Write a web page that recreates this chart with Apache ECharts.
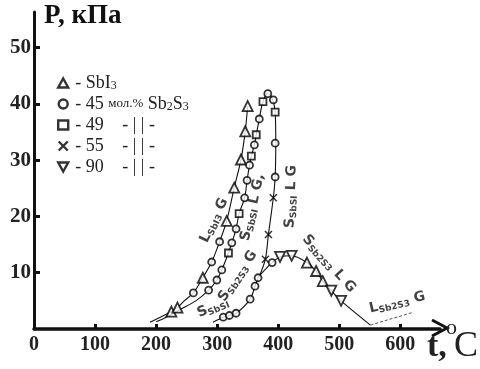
<!DOCTYPE html>
<html><head><meta charset="utf-8">
<script src="https://cdn.jsdelivr.net/npm/echarts@6/dist/echarts.min.js"></script>
<style>html,body{margin:0;padding:0;background:#fff}#c{width:480px;height:369px}</style>
</head><body><div id="c"></div>
<script>
// ---- axis ticks ----
const tempTicks = [0, 100, 200, 300, 400, 500, 600];
const pTicks = [10, 20, 30, 40, 50];

// ---- curves (t, °C ; P, kPa) ----
const curveSbI3T = [190, 205, 225, 235, 246, 261, 276.5, 291, 304, 315.6, 328, 339, 346, 350];
const curveSbI3P = [1.2, 2.0, 3.1, 3.8, 5.0, 6.4, 9.1, 11.9, 15.5, 19.2, 25.1, 30.1, 35.1, 39.6];

const curveSbSIT = [200, 215, 240, 265, 286, 299.5, 307.6, 318.5, 324, 331, 336, 345, 349, 353, 356, 361, 364, 369, 375, 383, 390, 395, 396, 395, 392, 384, 379, 370];
const curveSbSIP = [1.3, 2.0, 3.5, 5.0, 6.9, 8.7, 10.5, 13.5, 15.3, 17.8, 20.5, 23.3, 26.4, 29.1, 30.7, 32.7, 34.5, 37.3, 40.4, 41.8, 41.0, 38.5, 33.0, 27.0, 23.3, 16.8, 12.4, 9.6];

const curveSb2S3T = [293, 310, 331, 354, 362, 367, 372, 390, 403, 422, 447, 462, 473, 487, 503, 551];
const curveSb2S3P = [1.2, 2.1, 2.8, 5.3, 7.6, 9.1, 9.8, 11.8, 12.8, 13.0, 11.8, 10.3, 8.5, 6.8, 5.0, 0.7];

const curveLiqT = [551, 622];
const curveLiqP = [0.7, 3.0];

// ---- measured points by sample ----
const triT = [225, 235, 276.5, 315.6, 328, 339, 346, 350, 447, 462, 473];
const triP = [3.1, 3.8, 9.1, 19.2, 25.1, 30.1, 35.1, 39.6, 11.8, 10.3, 8.5];
const circT = [261, 291, 304, 286, 299.5, 307.6, 324, 331, 345, 349, 353, 361, 369, 383, 392, 395, 395, 310, 320, 331, 354, 362, 367, 390];
const circP = [6.4, 11.9, 15.5, 6.9, 8.7, 10.5, 15.3, 17.8, 23.3, 26.4, 29.1, 32.7, 37.3, 41.8, 40.7, 33.0, 27.0, 2.1, 2.4, 2.8, 5.3, 7.6, 9.1, 11.8];
const sqT = [318.5, 336, 356, 364, 375, 395];
const sqP = [13.5, 20.5, 30.7, 34.5, 40.4, 38.5];
const crossT = [392, 384, 379];
const crossP = [23.3, 16.8, 12.4];
const invT = [403, 422, 487, 503];
const invP = [12.8, 13.0, 6.8, 5.0];

// ---- legend ----
const legendNames = ['SbI3', '45', '49', '55', '90'];
const legendTexts = [
  '- SbI{sub|3}',
  '- 45 {sm|мол.%} Sb{sub|2}S{sub|3}',
  '{w|- 49}- | | -',
  '{w|- 55}- | | -',
  '{w|- 90}- | | -'
];

// ---- phase annotations (label centre in data coords) ----
const annotT = [295, 358, 421, 293, 334, 483, 595];
const annotP = [19.3, 21.6, 23.5, 3.8, 9.4, 11.6, 4.7];
const annotRot = [64, 77, 88, 23, 56, -48, 13];
const annotText = [
  '{b|L}{s|SbI3}{b| G}',
  '{b|S}{s|SbSI}{b| L G,}',
  '{b|S}{s|SbSI}{b| L G}',
  '{b|S}{s|SbSI}',
  '{b|S}{s|Sb2S3}{b| G}',
  '{b|S}{s|Sb2S3}{b| L G}',
  '{b|L}{s|Sb2S3}{b| G}'
];

const zip = (a, b) => a.map((v, i) => [v, b[i]]);
const SERIF = 'Liberation Serif';
const HAND = 'DejaVu Sans';
const INV = 'path://M0,0L10,0L5,9Z';
const CROSS = 'path://M0,0L10,10M10,0L0,10';
const mk = {color: '#fff', borderColor: '#000', borderWidth: 1.8};
const lineS = (name, t, p, extra) => Object.assign({
  type: 'line', name: name, data: zip(t, p), showSymbol: false, smooth: 0.3,
  lineStyle: {color: '#111', width: 1.1}, z: 2, silent: true
}, extra || {});
const ptS = (name, t, p, symbol, size, style) => ({
  type: 'scatter', name: name, data: zip(t, p), symbol: symbol, symbolSize: size,
  itemStyle: style || mk, z: 5
});

const chart = echarts.init(document.getElementById('c'));
chart.setOption({
  animation: false,
  backgroundColor: '#fff',
  grid: {left: 34, right: 40, top: 12, bottom: 40},
  xAxis: {
    type: 'value', min: 0, max: 665, interval: 100,
    axisLine: {show: true, lineStyle: {color: '#111', width: 3.5}},
    axisTick: {show: true, inside: true, length: 5, lineStyle: {color: '#111', width: 3}, customValues: tempTicks.slice(1)},
    axisLabel: {customValues: tempTicks, color: '#222', fontFamily: SERIF, fontWeight: 'bold', fontSize: 20, margin: 6},
    splitLine: {show: false}
  },
  yAxis: {
    type: 'value', min: 0, max: 56.3, interval: 10,
    axisLine: {show: true, lineStyle: {color: '#111', width: 3}},
    axisTick: {show: true, inside: true, length: 6, lineStyle: {color: '#111', width: 3}, customValues: pTicks},
    axisLabel: {customValues: pTicks, color: '#222', fontFamily: SERIF, fontWeight: 'bold', fontSize: 21, margin: 3},
    splitLine: {show: false}
  },
  legend: {
    orient: 'vertical', left: 52, top: 69, itemWidth: 10, itemHeight: 9, itemGap: 3,
    itemStyle: {borderWidth: 2.4},
    data: legendNames,
    formatter: n => legendTexts[legendNames.indexOf(n)],
    textStyle: {color: '#222', fontFamily: SERIF, fontSize: 18, lineHeight: 18, padding: [0, 0, 0, 2],
      rich: {
        sub: {fontFamily: SERIF, fontSize: 12, verticalAlign: 'bottom', lineHeight: 12, padding: [6, 0, 0, 0]},
        sm: {fontFamily: SERIF, fontSize: 13},
        w: {fontFamily: SERIF, fontSize: 18, width: 47}
      }}
  },
  graphic: [
    {type: 'text', left: 44, top: 3, style: {text: 'P, кПа', font: 'bold 27px "Liberation Serif"', fill: '#111'}},
    {type: 'polyline', shape: {points: [[432, 320], [447, 328], [432, 336]]}, style: {stroke: '#111', lineWidth: 3, fill: null}},
    {type: 'text', left: 427, top: 330, style: {text: 't,', font: 'bold 34px "Liberation Serif"', fill: '#222'}},
    {type: 'text', left: 446, top: 317, style: {text: 'o', font: '22px "Liberation Serif"', fill: '#222'}},
    {type: 'text', left: 454, top: 329, style: {text: 'C', font: '36px "Liberation Serif"', fill: '#222'}}
  ],
  series: [
    lineS('c1', curveSbI3T, curveSbI3P),
    lineS('c2', curveSbSIT, curveSbSIP),
    lineS('c3', curveSb2S3T, curveSb2S3P),
    lineS('c4', curveLiqT, curveLiqP, {smooth: false, lineStyle: {color: '#555', width: 1, type: [3, 2]}}),
    ptS('SbI3', triT, triP, 'triangle', 10),
    ptS('45', circT, circP, 'circle', 7),
    ptS('49', sqT, sqP, 'rect', 7),
    ptS('55', crossT, crossP, CROSS, 7, {color: '#000', borderColor: '#000', borderWidth: 1.5}),
    ptS('90', invT, invP, INV, 10),
    {
      type: 'scatter', name: 'annot', data: zip(annotT, annotP).map((v, i) => ({value: v, label: {rotate: annotRot[i]}})),
      symbol: 'circle', symbolSize: 1, itemStyle: {color: 'rgba(0,0,0,0)'}, z: 6, silent: true,
      label: {show: true, position: 'inside', color: '#111',
        formatter: p => annotText[p.dataIndex],
        rich: {
          b: {fontFamily: HAND, fontWeight: 'bold', fontSize: 14, color: '#111', lineHeight: 16, verticalAlign: 'middle'},
          s: {fontFamily: HAND, fontWeight: 'bold', fontSize: 9, color: '#111', lineHeight: 16, verticalAlign: 'bottom', padding: [5, 0, 0, 0]}
        }}
    }
  ]
});
</script>
</body></html>
